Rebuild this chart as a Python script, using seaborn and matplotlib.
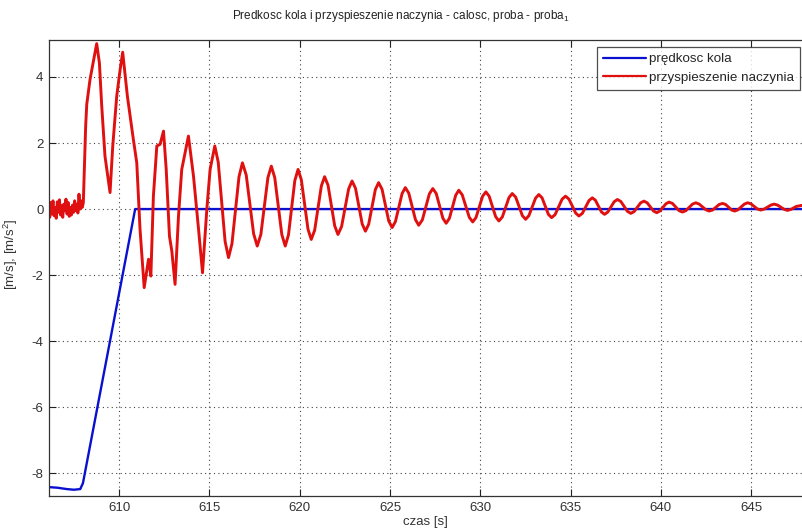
import numpy as np
import pandas as pd
import matplotlib
matplotlib.use("Agg")
import matplotlib.pyplot as plt
import seaborn as sns

# Wheel speed [m/s]
speed_t = [606.10, 606.60, 607.10, 607.50, 607.85, 608.00, 610.89, 647.90]
speed_v = [-8.42, -8.44, -8.48, -8.50, -8.48, -8.30, 0.00, 0.00]

# Vessel acceleration [m/s^2]
acc_t = [
    606.10, 606.16, 606.22, 606.28, 606.34, 606.40, 606.46, 606.52, 606.58,
    606.64, 606.70, 606.76, 606.82, 606.88, 606.94, 607.00, 607.06, 607.12,
    607.18, 607.24, 607.30, 607.36, 607.42, 607.48, 607.54, 607.60, 607.66,
    607.72, 607.78, 607.84, 607.90, 607.96, 608.02,
    608.15, 608.21, 608.39, 608.58, 608.76, 608.91, 609.04, 609.22, 609.50,
    609.65, 609.87, 610.06, 610.20, 610.46, 610.79, 610.98, 611.16, 611.39,
    611.63, 611.76, 611.90, 612.09, 612.27, 612.46, 612.61, 612.79, 612.92,
    613.10, 613.29, 613.47, 613.84, 614.12, 614.40, 614.62, 614.86, 615.04,
    615.30, 615.49, 615.87, 616.06, 616.25, 616.64, 616.83, 617.04, 617.45,
    617.65, 617.85, 618.24, 618.43, 618.62, 619.01, 619.20, 619.38, 619.73,
    619.91, 620.09, 620.46, 620.64, 620.83, 621.20, 621.38, 621.57, 621.94,
    622.12, 622.32, 622.71, 622.90, 623.09, 623.46, 623.64, 623.82, 624.19,
    624.37, 624.56, 624.93, 625.12, 625.30, 625.67, 625.85, 626.04, 626.41,
    626.59, 626.79, 627.18, 627.37, 627.56, 627.93, 628.11, 628.29, 628.64,
    628.81, 629.00, 629.39, 629.58, 629.76, 630.13, 630.31, 630.49, 630.85,
    631.03, 631.22, 631.59, 631.77, 631.96, 632.33, 632.51, 632.69, 633.06,
    633.24, 633.42, 633.77, 633.95, 634.14, 634.53, 634.72, 634.91, 635.28,
    635.46, 635.65, 636.02, 636.20, 636.37, 636.71, 636.88, 637.06, 637.41,
    637.59, 637.78, 638.15, 638.33, 638.51, 638.88, 639.06, 639.24, 639.59,
    639.77, 639.94, 640.28, 640.45, 640.64, 641.01, 641.19, 641.38, 641.75,
    641.93, 642.12, 642.49, 642.67, 642.86, 643.23, 643.41, 643.58, 643.92,
    644.09, 644.27, 644.62, 644.80, 644.98, 645.35, 645.53, 645.72, 646.09,
    646.27, 646.46, 646.83, 647.01, 647.20, 647.50, 647.90,
]
acc_v = [
    0.10, -0.25, 0.20, -0.15, 0.25, -0.20, 0.05, -0.28, 0.22,
    -0.10, 0.28, -0.18, 0.10, -0.25, 0.15, -0.05, 0.30, -0.15,
    0.20, -0.22, 0.05, -0.18, 0.12, -0.10, 0.25, -0.05, 0.15,
    -0.12, 0.45, 0.00, 0.25, 0.05, 0.19,
    2.51, 3.17, 3.92, 4.48, 5.01, 4.43, 3.12, 1.60, 0.50,
    1.91, 3.42, 4.23, 4.75, 3.42, 2.11, 1.40, -0.61, -2.38,
    -1.52, -2.03, 0.39, 1.91, 1.96, 2.36, 1.20, -0.82, -1.27,
    -2.28, -0.21, 1.20, 2.21, 1.00, -0.61, -1.93, 0.00, 1.20,
    1.91, 1.42, -0.98, -1.47, -1.05, 0.98, 1.40, 1.03, -0.75,
    -1.12, -0.77, 0.95, 1.30, 0.95, -0.77, -1.12, -0.78, 0.86,
    1.20, 0.89, -0.61, -0.92, -0.64, 0.70, 0.98, 0.72, -0.51,
    -0.77, -0.53, 0.61, 0.85, 0.63, -0.45, -0.67, -0.46, 0.59,
    0.80, 0.60, -0.36, -0.56, -0.38, 0.47, 0.65, 0.48, -0.32,
    -0.49, -0.33, 0.46, 0.62, 0.47, -0.28, -0.43, -0.28, 0.42,
    0.57, 0.43, -0.25, -0.39, -0.26, 0.39, 0.52, 0.39, -0.23,
    -0.36, -0.24, 0.35, 0.47, 0.36, -0.20, -0.31, -0.20, 0.33,
    0.44, 0.34, -0.16, -0.26, -0.17, 0.30, 0.39, 0.30, -0.12,
    -0.21, -0.13, 0.26, 0.34, 0.27, -0.09, -0.16, -0.09, 0.22,
    0.29, 0.23, -0.07, -0.13, -0.08, 0.19, 0.24, 0.19, -0.06,
    -0.11, -0.06, 0.16, 0.21, 0.17, -0.05, -0.09, -0.05, 0.15,
    0.19, 0.15, -0.02, -0.06, -0.03, 0.14, 0.17, 0.14, -0.03,
    -0.06, -0.02, 0.15, 0.19, 0.16, 0.00, -0.03, 0.00, 0.12,
    0.15, 0.12, -0.01, -0.04, -0.01, 0.08, 0.12,
]

x_ticks = [610, 615, 620, 625, 630, 635, 640, 645]
y_ticks = [-8, -6, -4, -2, 0, 2, 4]

sns.set_theme(style="white")
plt.rcParams["font.family"] = ["Liberation Sans", "DejaVu Sans"]
plt.rcParams["axes.unicode_minus"] = False
plt.rcParams["mathtext.fontset"] = "custom"
plt.rcParams["mathtext.rm"] = "Liberation Sans"
plt.rcParams["mathtext.it"] = "Liberation Sans"

fig = plt.figure(figsize=(8.02, 5.29), dpi=100)
ax = fig.add_axes([49 / 802, 33 / 529, 760 / 802, 456 / 529])

speed = pd.DataFrame({"t": speed_t, "v": speed_v})
acc = pd.DataFrame({"t": acc_t, "v": acc_v})

sns.lineplot(data=speed, x="t", y="v", ax=ax, color="#0a10d0", lw=1.7,
             label="prędkosc kola", sort=False, estimator=None)
sns.lineplot(data=acc, x="t", y="v", ax=ax, color="#e01010", lw=2.1,
             label="przyspieszenie naczynia", sort=False, estimator=None)

ax.set_xlim(606.12, 648.2)
ax.set_ylim(-8.69, 5.12)
ax.set_xticks(x_ticks)
ax.set_yticks(y_ticks)
ax.set_xticklabels([str(v) for v in x_ticks])
ax.set_yticklabels([str(v) for v in y_ticks])

ax.grid(True, linestyle=(0, (1, 3)), color="#444444", lw=0.8)
ax.tick_params(direction="in", length=5, width=0.8, colors="#222222",
               labelsize=9.5, top=True, right=True, bottom=True, left=True,
               labelcolor="#333333", pad=4)
for s in ax.spines.values():
    s.set_color("#333333")
    s.set_linewidth(0.9)

ax.set_xlabel("czas [s]", fontsize=9.5, color="#333333")
ax.set_ylabel("[m/s], [m/s$^2$]", fontsize=9.5, color="#333333")
ax.xaxis.set_label_coords((425 - 49) / 760, -0.043)
ax.yaxis.set_label_coords((20 - 49) / 760, 0.53)

fig.text(0.5, 1 - 16 / 529, "Predkosc kola i przyspieszenie naczynia - calosc, proba - proba$_1$",
         ha="center", va="center", fontsize=8.5, color="#222222")

leg = ax.legend(loc="upper right", bbox_to_anchor=(800 / 802, 1 - 47 / 529),
                bbox_transform=fig.transFigure, fontsize=9.6, frameon=True,
                fancybox=False, borderpad=0.45, handlelength=3.2,
                handletextpad=0.25, labelspacing=0.45, borderaxespad=0)
leg.get_frame().set_edgecolor("#222222")
leg.get_frame().set_linewidth(0.9)
for line in leg.get_lines():
    line.set_linewidth(1.6)

fig.savefig("out.png", dpi=100)
